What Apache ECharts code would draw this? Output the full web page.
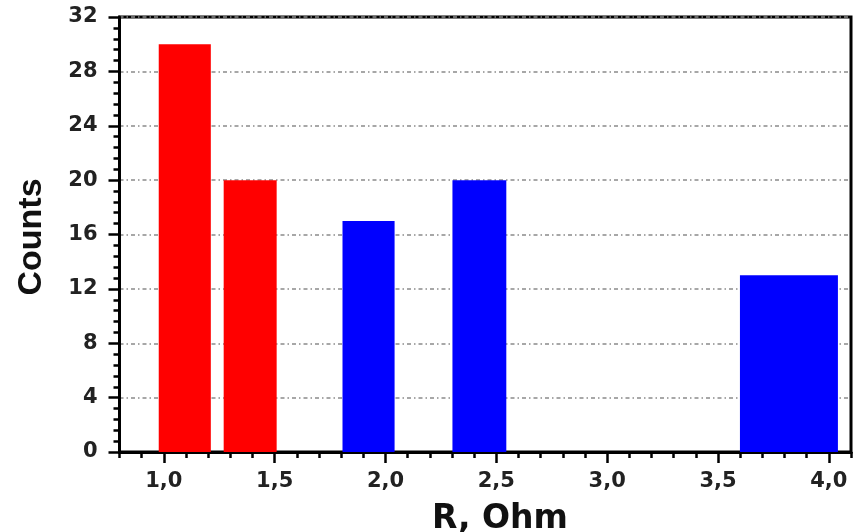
<!DOCTYPE html>
<html>
<head>
<meta charset="utf-8">
<script src="https://cdn.jsdelivr.net/npm/echarts@6/dist/echarts.min.js"></script>
<style>html,body{margin:0;padding:0;background:#fff;}#c{width:857px;height:532px;}</style>
</head>
<body>
<div id="c"></div>
<script>
// Histogram bins: left edge, right edge (R, Ohm) and counts
const redBinStart = [0.977, 1.270];
const redBinEnd   = [1.212, 1.509];
const redCounts   = [30, 20];
const blueBinStart = [1.806, 2.302, 3.599];
const blueBinEnd   = [2.041, 2.545, 4.041];
const blueCounts   = [17, 20, 13];
const xTickValues = [1.0, 1.5, 2.0, 2.5, 3.0, 3.5, 4.0];
const yTickValues = [0, 4, 8, 12, 16, 20, 24, 28, 32];

const chart = echarts.init(document.getElementById('c'), null, {renderer: 'canvas'});

function rectItem(color) {
  return function (params, api) {
    const p0 = api.coord([api.value(0), api.value(2)]);
    const p1 = api.coord([api.value(1), 0]);
    return {
      type: 'rect',
      shape: {x: p0[0], y: p0[1], width: p1[0] - p0[0], height: p1[1] - p0[1]},
      style: {fill: color}
    };
  };
}
const redData = redCounts.map((c, i) => [redBinStart[i], redBinEnd[i], c]);
const blueData = blueCounts.map((c, i) => [blueBinStart[i], blueBinEnd[i], c]);

const labelFont = {fontFamily: 'DejaVu Sans', fontWeight: 'bold', color: '#222'};

chart.setOption({
  animation: false,
  backgroundColor: '#fff',
  grid: {left: 119.5, right: 6, top: 17, bottom: 80, show: true, borderColor: '#000', borderWidth: 3, backgroundColor: 'transparent'},
  xAxis: [{
    type: 'value', min: 0.8, max: 4.1,
    axisLine: {show: true, onZero: false, lineStyle: {color: '#000', width: 3}},
    axisTick: {show: true, customValues: xTickValues, length: 11, lineStyle: {color: '#000', width: 2.5}},
    axisLabel: {show: true, customValues: xTickValues, margin: 19, fontSize: 21, ...labelFont,
      formatter: v => v.toFixed(1).replace('.', ',')},
    splitLine: {show: false}
  }, {
    type: 'value', min: 0.8, max: 4.1, interval: 0.1, position: 'bottom',
    axisLine: {show: false},
    axisTick: {show: true, length: 6, lineStyle: {color: '#000', width: 2.5}},
    axisLabel: {show: false},
    splitLine: {show: false}
  }],
  yAxis: {
    type: 'value', min: 0, max: 32, interval: 4,
    axisLine: {show: true, lineStyle: {color: '#000', width: 3}},
    axisTick: {show: true, length: 11, lineStyle: {color: '#000', width: 2.5}},
    minorTick: {show: true, splitNumber: 5, length: 6, lineStyle: {color: '#000', width: 2.5}},
    axisLabel: {margin: 22, fontSize: 21, ...labelFont},
    splitLine: {show: true, lineStyle: {color: '#8a8a8a', width: 1.5, type: [4, 3, 1.5, 3]}}
  },
  graphic: [{
    type: 'text', x: 500, y: 503,
    style: {text: 'R, Ohm', fontFamily: 'DejaVu Sans', fontWeight: 'bold', fontSize: 33, fill: '#111', textAlign: 'center', textVerticalAlign: 'top'}
  }, {
    type: 'text', rotation: Math.PI / 2, x: 15, y: 237,
    style: {text: 'Counts', fontFamily: 'Liberation Sans', fontWeight: 'bold', fontSize: 34, fill: '#111', textAlign: 'center', textVerticalAlign: 'top'}
  }],
  series: [{
    type: 'custom', name: 'red', renderItem: rectItem('#ff0000'), data: redData,
    encode: {x: [0, 1], y: 2}, clip: true, z: 1
  }, {
    type: 'custom', name: 'blue', renderItem: rectItem('#0000ff'), data: blueData,
    encode: {x: [0, 1], y: 2}, clip: true, z: 1
  }]
});
</script>
</body>
</html>
